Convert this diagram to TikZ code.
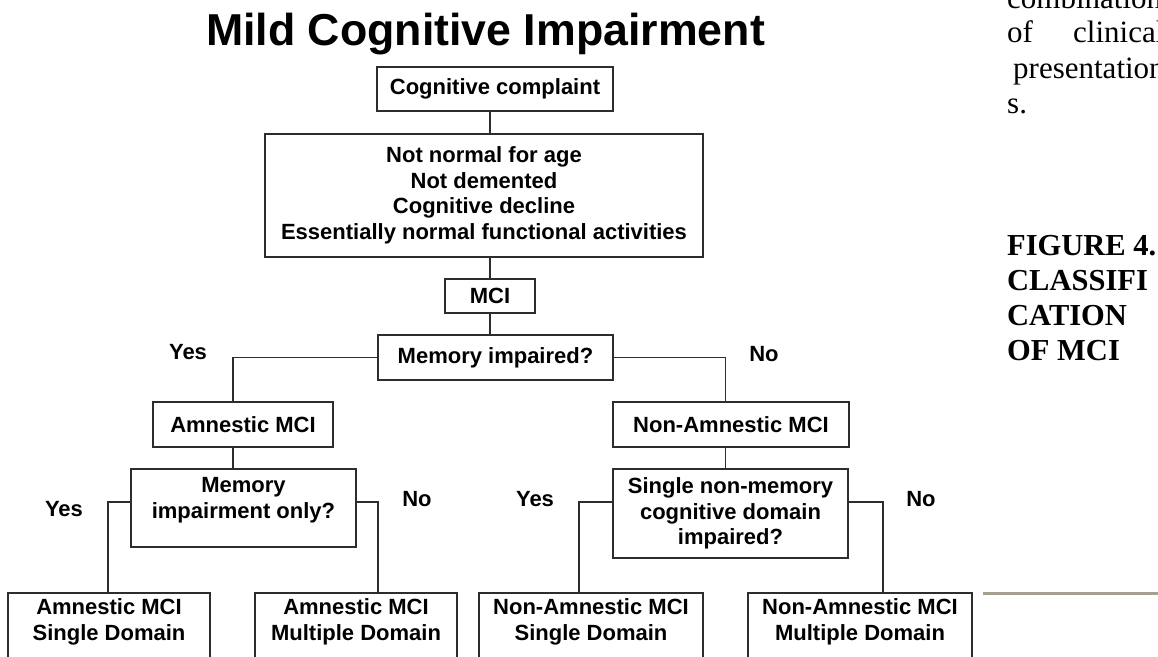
\documentclass[tikz,border=0pt]{standalone}
\usepackage{fontspec}
\setmainfont{Liberation Sans}
\newfontfamily\timesf{Liberation Serif}
\definecolor{linegray}{RGB}{45,45,45}
\definecolor{rulegray}{RGB}{166,160,144}
\tikzset{
  box/.style={draw=linegray, line width=1.5pt, rectangle, inner sep=0pt, align=center,
    font=\fontsize{22}{25.5}\selectfont\bfseries},
  txt/.style={inner sep=0pt, align=center, font=\fontsize{22}{25.5}\selectfont\bfseries},
  conn/.style={draw=linegray, line width=1.5pt},
  side/.style={inner sep=0pt, anchor=base west, font=\fontsize{31}{35}\timesf},
  sideb/.style={inner sep=0pt, anchor=base west, font=\fontsize{30.5}{35}\timesf\bfseries},
}
\begin{document}
\begin{tikzpicture}[x=1pt,y=1pt]
\useasboundingbox (0,0) rectangle (1158,-656);
\clip (0,0) rectangle (1158,-656);
\fill[white] (0,0) rectangle (1158,-656);

% title
\node[inner sep=0pt, anchor=base, font=\fontsize{44.7}{50}\selectfont\bfseries] (title) at (485.5,-45) {Mild Cognitive Impairment};

% boxes
\node[box, minimum width=236, minimum height=44] (cc) at (495,-89) {Cognitive complaint};
\node[box, minimum width=438, minimum height=123] (big) at (484,-195.5) {Not normal for age\\Not demented\\Cognitive decline\\Essentially normal functional activities};
\node[box, minimum width=90, minimum height=34] (mci) at (490,-296) {MCI};
\node[box, minimum width=235, minimum height=45] (mem) at (495.5,-357.5) {Memory impaired?};
\node[box, minimum width=180, minimum height=45] (amn) at (243,-424.5) {Amnestic MCI};
\node[box, minimum width=236, minimum height=45] (namn) at (731,-424.5) {Non-Amnestic MCI};
\node[box, minimum width=225, minimum height=78] (memonly) at (243.5,-508) {};
\node[txt] (memonlyt) at (243.5,-500) {Memory\\impairment only?};
\node[box, minimum width=235, minimum height=89] (single) at (730.5,-513.5) {Single non-memory\\cognitive domain\\impaired?};

\node[box, anchor=north, minimum width=202, minimum height=80] (b1) at (109,-592) {};
\node[box, anchor=north, minimum width=202, minimum height=80] (b2) at (356,-592) {};
\node[box, anchor=north, minimum width=224, minimum height=80] (b3) at (591,-592) {};
\node[box, anchor=north, minimum width=224, minimum height=80] (b4) at (860,-592) {};
\node[txt] (b1t) at (109,-622) {Amnestic MCI\\Single Domain};
\node[txt] (b2t) at (356,-622) {Amnestic MCI\\Multiple Domain};
\node[txt] (b3t) at (591,-622) {Non-Amnestic MCI\\Single Domain};
\node[txt] (b4t) at (860,-622) {Non-Amnestic MCI\\Multiple Domain};

% connector coordinates
\coordinate (spine) at (490,0);
\coordinate (lx) at (233,0);
\coordinate (rx) at (725.5,0);
\coordinate (d1) at (108,-502);
\coordinate (d2) at (378,-502);
\coordinate (d3) at (579,-502);
\coordinate (d4) at (883,-502);

% connectors
\draw[conn] (cc.south -| spine) -- (big.north -| spine);
\draw[conn] (big.south -| spine) -- (mci.north -| spine);
\draw[conn] (mci.south -| spine) -- (mem.north -| spine);
\draw[conn] (mem.west) -| (amn.north -| lx);
\draw[conn] (mem.east) -| (namn.north -| rx);
\draw[conn] (amn.south -| lx) -- (memonly.north -| lx);
\draw[conn] (namn.south -| rx) -- (single.north -| rx);
\draw[conn] (memonly.west |- d1) -- (d1) -- (b1.north -| d1);
\draw[conn] (memonly.east |- d2) -- (d2) -- (b2.north -| d2);
\draw[conn] (single.west |- d3) -- (d3) -- (b3.north -| d3);
\draw[conn] (single.east |- d4) -- (d4) -- (b4.north -| d4);

% yes/no labels
\node[txt] (y1) at (188,-352) {Yes};
\node[txt] (n1) at (764,-354) {No};
\node[txt] (y2) at (64,-509) {Yes};
\node[txt] (n2) at (417,-499) {No};
\node[txt] (y3) at (535,-499) {Yes};
\node[txt] (n3) at (921,-499) {No};

% side text
\node[side] (s0) at (1007,-8) {combination};
\node[side] (s1) at (1007,-42) {of};
\node[side] (s2) at (1073,-42) {clinical};
\node[side] (s3) at (1013,-78) {presentation};
\node[side] (s4) at (1007,-113) {s.};
\node[sideb] (f1) at (1007,-255) {FIGURE 4.};
\node[sideb] (f2) at (1007,-290) {CLASSIFI};
\node[sideb] (f3) at (1007,-325) {CATION};
\node[sideb] (f4) at (1007,-360) {OF MCI};

% grey rule
\coordinate (g1) at (983,-593);
\coordinate (g2) at (1158,-593);
\draw[draw=rulegray, line width=3pt] (g1) -- (g2);
\end{tikzpicture}
\end{document}
